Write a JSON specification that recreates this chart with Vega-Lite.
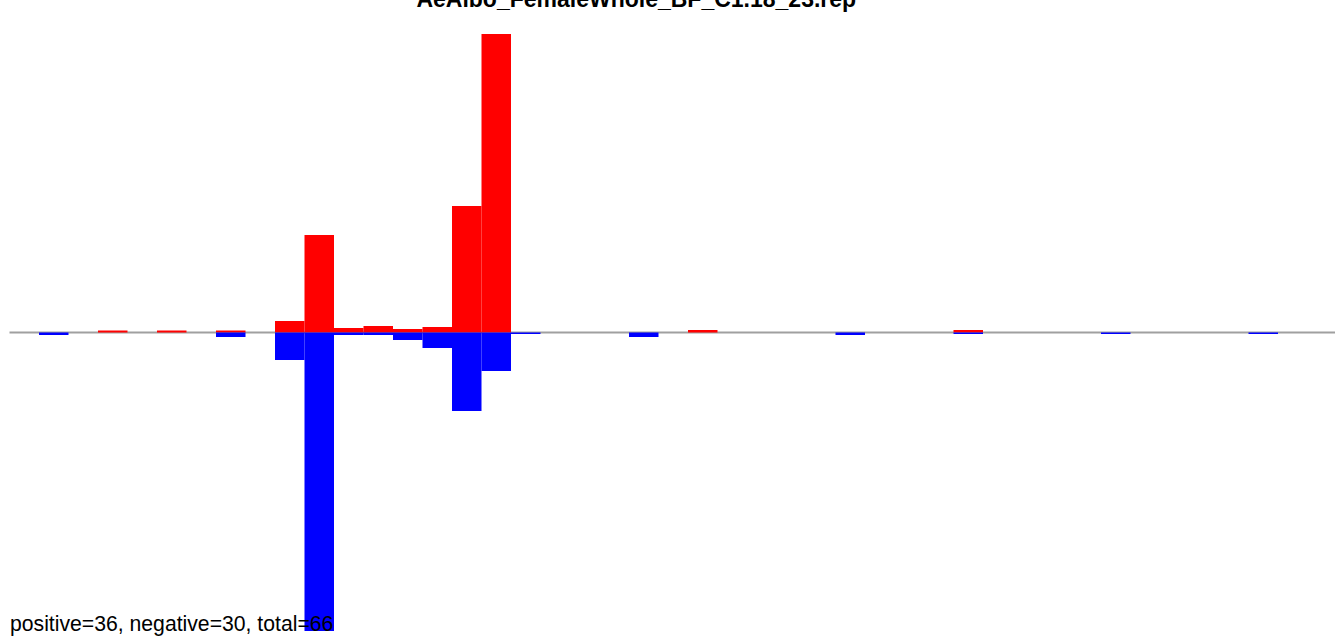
{
  "$schema": "https://vega.github.io/schema/vega-lite/v6.json",
  "autosize": {"type": "none"},
  "width": 1325.5,
  "height": 600,
  "padding": {"left": 9.5, "top": 32.5, "right": 0, "bottom": 5.5},
  "background": "white",
  "config": {"view": {"stroke": null}},
  "title": {
    "text": "AeAlbo_FemaleWhole_BF_C1.18_23.rep",
    "anchor": "middle",
    "dx": -36,
    "offset": 3,
    "baseline": "alphabetic",
    "font": "Liberation Sans",
    "fontSize": 23,
    "fontWeight": "bold",
    "color": "black"
  },
  "datasets": {
    "bars": [
      {"slot": 3, "value": 2, "sign": "positive"},
      {"slot": 5, "value": 2, "sign": "positive"},
      {"slot": 7, "value": 2, "sign": "positive"},
      {"slot": 9, "value": 11.5, "sign": "positive"},
      {"slot": 10, "value": 97.5, "sign": "positive"},
      {"slot": 11, "value": 4.5, "sign": "positive"},
      {"slot": 12, "value": 6.5, "sign": "positive"},
      {"slot": 13, "value": 3.5, "sign": "positive"},
      {"slot": 14, "value": 5.5, "sign": "positive"},
      {"slot": 15, "value": 126.5, "sign": "positive"},
      {"slot": 16, "value": 298.5, "sign": "positive"},
      {"slot": 23, "value": 2.5, "sign": "positive"},
      {"slot": 32, "value": 2.5, "sign": "positive"},
      {"slot": 1, "value": -2.5, "sign": "negative"},
      {"slot": 7, "value": -4.5, "sign": "negative"},
      {"slot": 9, "value": -27.5, "sign": "negative"},
      {"slot": 10, "value": -298.5, "sign": "negative"},
      {"slot": 11, "value": -2.5, "sign": "negative"},
      {"slot": 12, "value": -2.5, "sign": "negative"},
      {"slot": 13, "value": -7.5, "sign": "negative"},
      {"slot": 14, "value": -15.5, "sign": "negative"},
      {"slot": 15, "value": -78.5, "sign": "negative"},
      {"slot": 16, "value": -38.5, "sign": "negative"},
      {"slot": 17, "value": -1.5, "sign": "negative"},
      {"slot": 21, "value": -4.5, "sign": "negative"},
      {"slot": 28, "value": -2.5, "sign": "negative"},
      {"slot": 32, "value": -1.5, "sign": "negative"},
      {"slot": 37, "value": -1.5, "sign": "negative"},
      {"slot": 42, "value": -1.5, "sign": "negative"}
    ],
    "note": [
      {"label": "positive=36, negative=30, total=66"}
    ]
  },
  "layer": [
    {
      "data": {"name": "note"},
      "mark": {"type": "rule", "color": "#a0a0a0", "strokeWidth": 2},
      "encoding": {
        "y": {"datum": 0, "type": "quantitative", "scale": {"domain": [-300, 300], "nice": false}, "axis": null}
      }
    },
    {
      "data": {"name": "bars"},
      "mark": {"type": "bar", "cornerRadius": 0, "strokeWidth": 0},
      "encoding": {
        "x": {
          "field": "slot",
          "type": "ordinal",
          "scale": {
            "domain": [0,1,2,3,4,5,6,7,8,9,10,11,12,13,14,15,16,17,18,19,20,21,22,23,24,25,26,27,28,29,30,31,32,33,34,35,36,37,38,39,40,41,42,43,44],
            "range": [0, 1327.5],
            "paddingInner": 0,
            "paddingOuter": 0
          },
          "axis": null
        },
        "y": {
          "field": "value",
          "type": "quantitative",
          "stack": null,
          "scale": {"domain": [-300, 300], "nice": false},
          "axis": null
        },
        "color": {
          "field": "sign",
          "type": "nominal",
          "scale": {"domain": ["positive", "negative"], "range": ["#ff0000", "#0000ff"]},
          "legend": null
        }
      }
    },
    {
      "data": {"name": "note"},
      "mark": {
        "type": "text",
        "align": "left",
        "baseline": "alphabetic",
        "font": "Liberation Sans",
        "fontSize": 21.2,
        "fontWeight": "normal",
        "color": "black",
        "dx": 0.5
      },
      "encoding": {
        "text": {"field": "label"},
        "x": {"datum": 0, "type": "ordinal", "bandPosition": 0},
        "y": {"datum": -298.5, "type": "quantitative"}
      }
    }
  ]
}
